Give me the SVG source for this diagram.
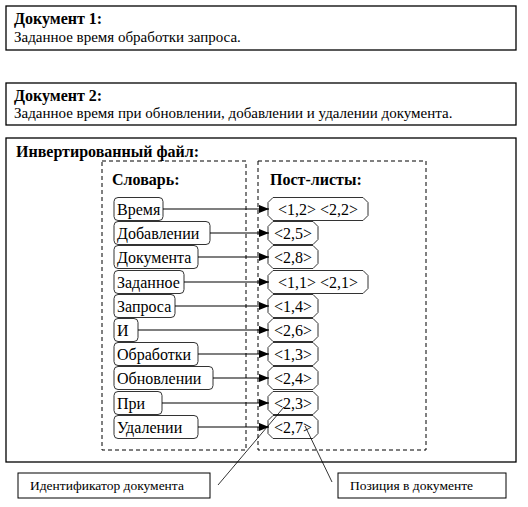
<svg xmlns="http://www.w3.org/2000/svg" width="528" height="507" viewBox="0 0 528 507">
<style>
.frame{fill:#fff;stroke:#000;stroke-width:1.3}
.dash{fill:none;stroke:#000;stroke-width:1;stroke-dasharray:4,3}
.t{font-family:"Liberation Serif","Times New Roman",serif;fill:#000}
.b{font-weight:bold;font-size:16px}
.body{font-size:15px}
.w{fill:#fff;stroke:#333;stroke-width:1}
.wt{font-size:16px}
.pt{font-size:16px;text-anchor:middle}
.arr{stroke:#000;stroke-width:1.2;fill:none;marker-end:url(#ah)}
.call{stroke:#000;stroke-width:0.8;fill:none}
.lab{font-size:13.5px}
</style>
<defs>
<marker id="ah" viewBox="0 0 10 10" refX="10" refY="5" markerWidth="10" markerHeight="9" markerUnits="userSpaceOnUse" orient="auto" preserveAspectRatio="none">
<path d="M0,0.5 L10,5 L0,9.5 Z" fill="#000"/>
</marker>
</defs>
<rect width="528" height="507" fill="#fff"/>

<g id="doc1">
<rect class="frame" x="6" y="6" width="510" height="44"/>
<text class="t b" x="14" y="24">Документ 1:</text>
<text class="t body" x="14" y="42">Заданное время обработки запроса.</text>
</g>
<g id="doc2">
<rect class="frame" x="6" y="83" width="510" height="42"/>
<text class="t b" x="14" y="101">Документ 2:</text>
<text class="t body" x="14" y="118">Заданное время при обновлении, добавлении и удалении документа.</text>
</g>
<g id="inverted">
<rect class="frame" x="6" y="138" width="510" height="324"/>
<text class="t b" x="16" y="157">Инвертированный файл:</text>
</g>
<g id="dictionary">
<rect class="dash" x="102" y="161" width="144" height="289"/>
<text class="t b" x="112" y="185">Словарь:</text>
</g>
<g id="postings">
<rect class="dash" x="258" y="161" width="168" height="289"/>
<text class="t b" x="270" y="185">Пост-листы:</text>
</g>

<g id="words">
<g id="w-vremya"><rect class="w" x="114" y="197.5" width="49" height="23" rx="4"/><text class="t wt" x="117" y="215">Время</text></g>
<g id="w-dobavlenii"><rect class="w" x="114" y="221.5" width="96" height="23" rx="4"/><text class="t wt" x="117" y="239">Добавлении</text></g>
<g id="w-dokumenta"><rect class="w" x="114" y="245.5" width="84" height="23" rx="4"/><text class="t wt" x="117" y="263">Документа</text></g>
<g id="w-zadannoe"><rect class="w" x="114" y="270.5" width="70" height="23" rx="4"/><text class="t wt" x="117" y="288">Заданное</text></g>
<g id="w-zaprosa"><rect class="w" x="114" y="294.5" width="61" height="23" rx="4"/><text class="t wt" x="117" y="312">Запроса</text></g>
<g id="w-i"><rect class="w" x="114" y="318.5" width="24" height="23" rx="4"/><text class="t wt" x="117" y="336">И</text></g>
<g id="w-obrabotki"><rect class="w" x="114" y="342.5" width="84" height="23" rx="4"/><text class="t wt" x="117" y="360">Обработки</text></g>
<g id="w-obnovlenii"><rect class="w" x="114" y="366.5" width="99" height="23" rx="4"/><text class="t wt" x="117" y="384">Обновлении</text></g>
<g id="w-pri"><rect class="w" x="114" y="391.5" width="48" height="23" rx="4"/><text class="t wt" x="117" y="409">При</text></g>
<g id="w-udalenii"><rect class="w" x="114" y="415.5" width="84" height="23" rx="4"/><text class="t wt" x="117" y="433">Удалении</text></g>
</g>

<g id="posts">
<g id="p1"><path class="w" d="M273,197.5 H363 L368,202.5 V215.5 L363,220.5 H273 L268,215.5 V202.5 Z"/><text class="t pt" x="318" y="215">&lt;1,2&gt; &lt;2,2&gt;</text></g>
<g id="p2"><path class="w" d="M273,221.5 H313 L318,226.5 V239.5 L313,244.5 H273 L268,239.5 V226.5 Z"/><text class="t pt" x="293" y="239">&lt;2,5&gt;</text></g>
<g id="p3"><path class="w" d="M273,245.5 H313 L318,250.5 V263.5 L313,268.5 H273 L268,263.5 V250.5 Z"/><text class="t pt" x="293" y="263">&lt;2,8&gt;</text></g>
<g id="p4"><path class="w" d="M273,270.5 H363 L368,275.5 V288.5 L363,293.5 H273 L268,288.5 V275.5 Z"/><text class="t pt" x="318" y="288">&lt;1,1&gt; &lt;2,1&gt;</text></g>
<g id="p5"><path class="w" d="M273,294.5 H313 L318,299.5 V312.5 L313,317.5 H273 L268,312.5 V299.5 Z"/><text class="t pt" x="293" y="312">&lt;1,4&gt;</text></g>
<g id="p6"><path class="w" d="M273,318.5 H313 L318,323.5 V336.5 L313,341.5 H273 L268,336.5 V323.5 Z"/><text class="t pt" x="293" y="336">&lt;2,6&gt;</text></g>
<g id="p7"><path class="w" d="M273,342.5 H313 L318,347.5 V360.5 L313,365.5 H273 L268,360.5 V347.5 Z"/><text class="t pt" x="293" y="360">&lt;1,3&gt;</text></g>
<g id="p8"><path class="w" d="M273,366.5 H313 L318,371.5 V384.5 L313,389.5 H273 L268,384.5 V371.5 Z"/><text class="t pt" x="293" y="384">&lt;2,4&gt;</text></g>
<g id="p9"><path class="w" d="M273,391.5 H313 L318,396.5 V409.5 L313,414.5 H273 L268,409.5 V396.5 Z"/><text class="t pt" x="293" y="409">&lt;2,3&gt;</text></g>
<g id="p10"><path class="w" d="M273,415.5 H313 L318,420.5 V433.5 L313,438.5 H273 L268,433.5 V420.5 Z"/><text class="t pt" x="293" y="433">&lt;2,7&gt;</text></g>
</g>

<g id="connectors">
<line class="arr" x1="163" y1="209" x2="269" y2="209"/>
<line class="arr" x1="210" y1="233" x2="269" y2="233"/>
<line class="arr" x1="198" y1="257" x2="269" y2="257"/>
<line class="arr" x1="184" y1="282" x2="269" y2="282"/>
<line class="arr" x1="175" y1="306" x2="269" y2="306"/>
<line class="arr" x1="138" y1="330" x2="269" y2="330"/>
<line class="arr" x1="198" y1="354" x2="269" y2="354"/>
<line class="arr" x1="213" y1="378" x2="269" y2="378"/>
<line class="arr" x1="162" y1="403" x2="269" y2="403"/>
<line class="arr" x1="198" y1="427" x2="269" y2="427"/>
<line class="call" x1="218" y1="485" x2="284" y2="407"/>
<line class="call" x1="332" y1="482" x2="305" y2="426"/>
</g>

<g id="label-id">
<rect class="frame" x="18" y="473" width="192" height="25" style="stroke-width:1"/>
<text class="t lab" x="30" y="490">Идентификатор документа</text>
</g>
<g id="label-pos">
<rect class="frame" x="338" y="473" width="168" height="25" style="stroke-width:1"/>
<text class="t lab" x="350" y="490">Позиция в документе</text>
</g>
</svg>
